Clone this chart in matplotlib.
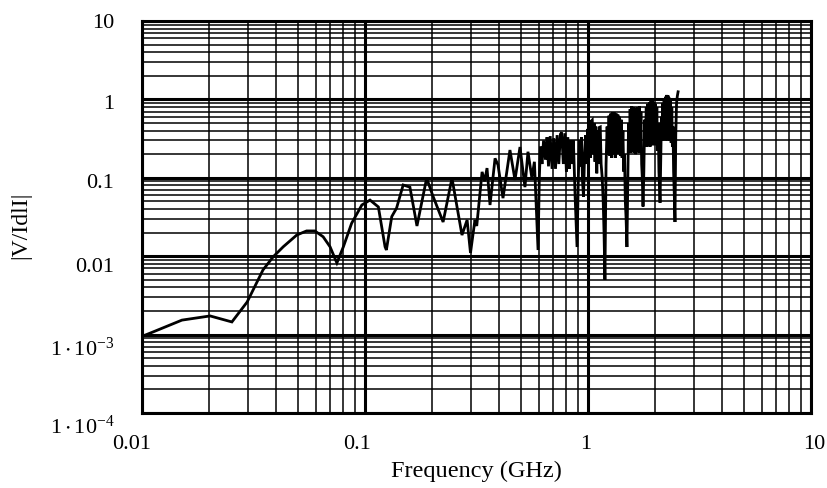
import matplotlib
matplotlib.use("Agg")
import matplotlib.pyplot as plt
from matplotlib.ticker import LogLocator, NullFormatter, FixedLocator
from matplotlib.transforms import ScaledTranslation

plt.rcParams['font.family'] = ['Liberation Serif', 'DejaVu Serif']
plt.rcParams['mathtext.fontset'] = 'custom'
plt.rcParams['mathtext.rm'] = 'Liberation Serif'
plt.rcParams['mathtext.it'] = 'Liberation Serif:italic'

# Frequency (GHz) and normalised field magnitude |V/Idl|
freq = [
    # low-frequency rise and first lobes
    0.0101, 0.0112, 0.0151, 0.0202, 0.0253, 0.0296, 0.0349, 0.0388, 0.0430, 0.0494,
    0.0547, 0.0596, 0.0649, 0.0697, 0.0748, 0.0800, 0.0871, 0.0968, 0.1053, 0.1148,
    0.1230, 0.1247, 0.1318, 0.1385, 0.1483, 0.1590, 0.1710, 0.1890, 0.2010, 0.2240,
    0.2455, 0.2722, 0.2870, 0.2972, 0.3112, 0.3170,
    # 0.3 - 0.6 GHz
    0.3350, 0.3440, 0.3525, 0.3636, 0.3830, 0.3948, 0.4157, 0.4467, 0.4705, 0.4955,
    0.5215, 0.5380, 0.5600, 0.5750, 0.5970,
    # 0.6 - 0.9 GHz
    0.605, 0.612, 0.622, 0.632, 0.645, 0.655, 0.665, 0.677, 0.690, 0.702,
    0.715, 0.727, 0.740, 0.752, 0.762, 0.775, 0.788, 0.800, 0.812, 0.825,
    0.836, 0.848, 0.860, 0.875, 0.893,
    # 0.9 - 1.2 GHz
    0.905, 0.915, 0.925, 0.935, 0.945, 0.955, 0.965, 0.975, 0.985, 0.995,
    1.005, 1.015, 1.025, 1.035, 1.045, 1.055, 1.065, 1.075, 1.085, 1.095,
    1.105, 1.115, 1.125, 1.135, 1.145, 1.158, 1.170, 1.180, 1.191,
    # 1.2 - 1.5 GHz
    1.205, 1.218, 1.230, 1.242, 1.254, 1.266, 1.278, 1.290, 1.302, 1.314,
    1.326, 1.338, 1.350, 1.362, 1.374, 1.386, 1.398, 1.410, 1.422, 1.434,
    1.446, 1.458, 1.470, 1.482, 1.495,
    # 1.5 - 1.77 GHz
    1.508, 1.520, 1.532, 1.545, 1.558, 1.571, 1.584, 1.597, 1.610, 1.623,
    1.636, 1.649, 1.662, 1.675, 1.688, 1.701, 1.714, 1.727, 1.740, 1.752,
    1.765,
    # 1.77 - 2.1 GHz
    1.780, 1.795, 1.810, 1.825, 1.840, 1.855, 1.870, 1.885, 1.900, 1.915,
    1.930, 1.945, 1.960, 1.975, 1.990, 2.005, 2.020, 2.035, 2.050, 2.065,
    2.080, 2.092, 2.104,
    # 2.1 - 2.55 GHz
    2.118, 2.135, 2.150, 2.165, 2.180, 2.195, 2.210, 2.225, 2.240, 2.255,
    2.270, 2.285, 2.300, 2.315, 2.330, 2.345, 2.360, 2.375, 2.390, 2.405,
    2.420, 2.438, 2.455, 2.475, 2.495, 2.515, 2.535,
]
magnitude = [
    0.00096, 0.00108, 0.00153, 0.00173, 0.00145, 0.0026, 0.0067, 0.00986, 0.0132, 0.0186,
    0.0210, 0.0210, 0.0177, 0.0132, 0.0082, 0.0132, 0.0263, 0.045, 0.052, 0.0425,
    0.0132, 0.0120, 0.032, 0.041, 0.081, 0.076, 0.0243, 0.099, 0.060, 0.0273,
    0.099, 0.0186, 0.029, 0.0110, 0.029, 0.0243,
    0.119, 0.090, 0.133, 0.045, 0.177, 0.146, 0.055, 0.226, 0.094, 0.247,
    0.076, 0.215, 0.100, 0.160, 0.012,
    0.10, 0.25, 0.15, 0.30, 0.17, 0.33, 0.14, 0.34, 0.13, 0.32,
    0.13, 0.35, 0.15, 0.36, 0.38, 0.15, 0.37, 0.12, 0.33, 0.13,
    0.30, 0.15, 0.30, 0.06, 0.0131,
    0.10, 0.30, 0.14, 0.33, 0.09, 0.057, 0.20, 0.35, 0.15, 0.42,
    0.16, 0.48, 0.18, 0.53, 0.546, 0.20, 0.50, 0.16, 0.45, 0.114,
    0.40, 0.15, 0.44, 0.445, 0.15, 0.10, 0.05, 0.02, 0.005,
    0.15, 0.45, 0.20, 0.62, 0.19, 0.66, 0.18, 0.69, 0.20, 0.68,
    0.18, 0.66, 0.22, 0.64, 0.20, 0.60, 0.19, 0.55, 0.18, 0.40,
    0.12, 0.20, 0.05, 0.03, 0.0131,
    0.10, 0.50, 0.22, 0.75, 0.21, 0.82, 0.22, 0.80, 0.21, 0.78,
    0.20, 0.78, 0.22, 0.80, 0.21, 0.82, 0.22, 0.70, 0.15, 0.10,
    0.043,
    0.12, 0.55, 0.26, 0.80, 0.25, 0.88, 0.26, 0.92, 0.25, 0.95,
    0.27, 0.98, 0.26, 0.92, 0.27, 0.88, 0.26, 0.80, 0.22, 0.50,
    0.12, 0.08, 0.048,
    0.15, 0.60, 0.30, 0.90, 0.31, 1.00, 0.30, 1.08, 0.32, 1.14,
    0.30, 1.12, 0.31, 1.05, 0.30, 0.95, 0.28, 0.80, 0.25, 0.45,
    0.12, 0.06, 0.0273, 0.35, 0.90, 1.10, 1.25,
]

x_ticks = [0.01, 0.1, 1, 10]
x_tick_labels = ['0.01', '0.1', '1', '10']
y_ticks = [1e-4, 1e-3, 0.01, 0.1, 1, 10]
y_tick_labels = [r'$\mathregular{1\cdot10^{-4}}$', r'$\mathregular{1\cdot10^{-3}}$',
                 '0.01', '0.1', '1', '10']

# small per-label nudges (pixels) for the tick text
x_label_nudge = [-10, -8, -2, 3]
y_label_nudge = [-12, -12, -9, -3, -3, 0]

fig = plt.figure(figsize=(8.28, 4.88), dpi=100)
ax = fig.add_axes([142 / 828, 1 - 413 / 488, (811 - 142) / 828, (413 - 21) / 488])

ax.plot(freq, magnitude, color='black', lw=2.0, solid_joinstyle='miter')

ax.set_xscale('log')
ax.set_yscale('log')
ax.set_xlim(0.01, 10)
ax.set_ylim(1e-4, 10)

ax.xaxis.set_major_locator(FixedLocator(x_ticks))
ax.set_xticklabels(x_tick_labels)
ax.yaxis.set_major_locator(FixedLocator(y_ticks))
ax.set_yticklabels(y_tick_labels)
ax.xaxis.set_minor_locator(LogLocator(base=10, subs=range(2, 10)))
ax.yaxis.set_minor_locator(LogLocator(base=10, subs=range(2, 10)))
ax.xaxis.set_minor_formatter(NullFormatter())
ax.yaxis.set_minor_formatter(NullFormatter())

ax.tick_params(which='both', length=0)
ax.tick_params(axis='x', pad=16, labelsize=16)
ax.tick_params(axis='y', pad=20, labelsize=16)

ax.grid(True, which='major', color='black', lw=2.2)
ax.grid(True, which='minor', color='black', lw=1.1)
for s in ax.spines.values():
    s.set_linewidth(2.2)
    s.set_color('black')

ax.set_xlabel('Frequency (GHz)', fontsize=17.5, labelpad=5)
ax.set_ylabel('|V/IdlI|', fontsize=17)
ax.yaxis.set_label_coords(-0.165, 0.48)

for lab, dx in zip(ax.get_xticklabels(), x_label_nudge):
    lab.set_transform(lab.get_transform() + ScaledTranslation(dx / 100, 0, fig.dpi_scale_trans))
for lab, dy in zip(ax.get_yticklabels(), y_label_nudge):
    lab.set_transform(lab.get_transform() + ScaledTranslation(0, dy / 100, fig.dpi_scale_trans))

fig.savefig('out.png', dpi=100)
